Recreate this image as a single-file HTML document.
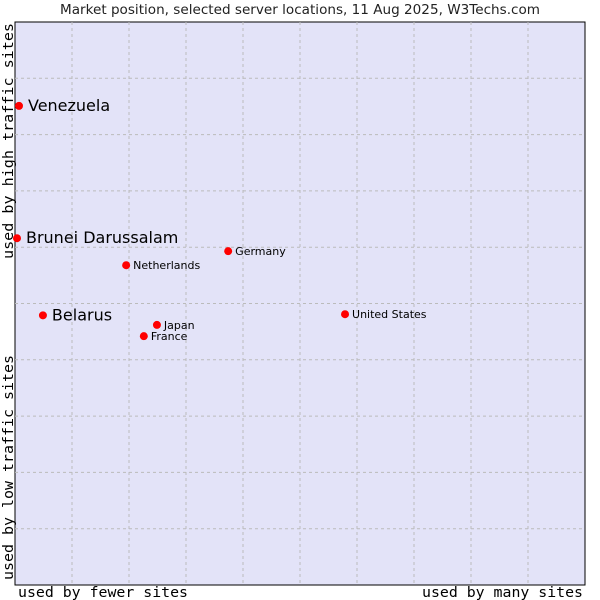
<!DOCTYPE html>
<html><head><meta charset="utf-8"><style>
body{margin:0;background:#fff;}
svg{display:block;font-family:"DejaVu Sans","Liberation Sans",sans-serif;}
.mono{font-family:"DejaVu Sans Mono","Liberation Mono",monospace;}
</style></head><body>
<svg id="chart" width="600" height="600">
<text x="60" y="14" textLength="480" lengthAdjust="spacingAndGlyphs" font-size="13" fill="#222">Market position, selected server locations, 11 Aug 2025, W3Techs.com</text>
<rect x="15" y="22" width="570" height="563" fill="#e3e3f8" stroke="#000" stroke-width="1"/>
<g id="grid"></g>
<g id="points"></g>
<text class="mono" x="18" y="597" font-size="14" textLength="170" lengthAdjust="spacingAndGlyphs" fill="#000">used by fewer sites</text>
<text class="mono" x="422" y="597" font-size="14" textLength="161" lengthAdjust="spacingAndGlyphs" fill="#000">used by many sites</text>
<text class="mono" transform="translate(13,580) rotate(-90)" font-size="14" textLength="225" lengthAdjust="spacingAndGlyphs" fill="#000">used by low traffic sites</text>
<text class="mono" transform="translate(13,259) rotate(-90)" font-size="14" textLength="236" lengthAdjust="spacingAndGlyphs" fill="#000">used by high traffic sites</text>
</svg>
<script>
const names=["Venezuela","Brunei Darussalam","Belarus","Netherlands","Germany","Japan","France","United States"];
const xVals=[0.7,0.35,4.9,19.5,37.4,24.9,22.6,57.9];
const yVals=[85.1,61.6,47.9,56.8,59.3,46.2,44.2,48.1];
const big=[true,true,true,false,false,false,false,false];
const L=15,T=22,W=570,H=563;
const sx=v=>L+v/100*W, sy=v=>T+H-v/100*H;
const ns="http://www.w3.org/2000/svg";
const grid=document.getElementById('grid'), pts=document.getElementById('points');
for(let i=1;i<10;i++){
  const v=document.createElementNS(ns,'line');
  v.setAttribute('x1',sx(i*10));v.setAttribute('x2',sx(i*10));v.setAttribute('y1',T);v.setAttribute('y2',T+H);
  v.setAttribute('stroke','#bbb');v.setAttribute('stroke-dasharray','3,3');
  
  
  grid.appendChild(v);
  const h=document.createElementNS(ns,'line');
  h.setAttribute('y1',sy(i*10));h.setAttribute('y2',sy(i*10));h.setAttribute('x1',L);h.setAttribute('x2',L+W);
  h.setAttribute('stroke','#bbb');h.setAttribute('stroke-dasharray','3,3');
  
  
  grid.appendChild(h);
}
names.forEach((n,i)=>{
  const x=sx(xVals[i]),y=sy(yVals[i]);
  const c=document.createElementNS(ns,'circle');
  c.setAttribute('cx',x);c.setAttribute('cy',y);c.setAttribute('r',4);c.setAttribute('fill','#f00');
  
  
  pts.appendChild(c);
  const t=document.createElementNS(ns,'text');
  t.setAttribute('x',x+(big[i]?9:7));t.setAttribute('y',y+(big[i]?5:4));
  t.setAttribute('font-size',big[i]?16:11);t.setAttribute('fill','#000');
  t.textContent=n;
  
  
  pts.appendChild(t);
});
</script>
</body></html>
